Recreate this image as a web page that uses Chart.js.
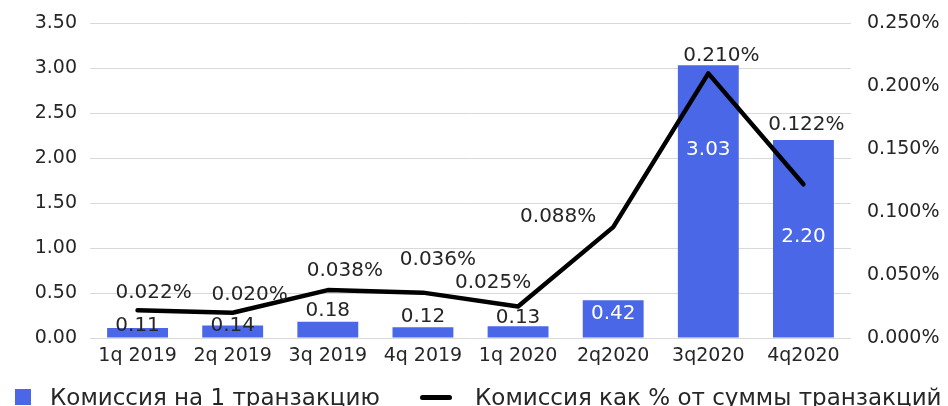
<!DOCTYPE html>
<html>
<head>
<meta charset="utf-8">
<script src="https://cdn.jsdelivr.net/npm/chart.js@4/dist/chart.umd.min.js"></script>
<style>
  html, body { margin: 0; padding: 0; background: #fff; }
  #wrap { position: relative; width: 948px; height: 406px; overflow: hidden; font-family: 'DejaVu Sans', sans-serif; color: #262626; }
  #chart { position: absolute; left: 0; top: 0; }
  .lg { position: absolute; font-size: 23px; line-height: 23px; white-space: nowrap; }
  .sw-bar { position: absolute; left: 15px; top: 389px; width: 16px; height: 16px; background: #4a67e8; }
  .sw-line { position: absolute; left: 420px; top: 395px; width: 32px; height: 5px; background: #000; border-radius: 3px; }
</style>
</head>
<body>
<div id="wrap">
  <canvas id="chart" width="948" height="406"></canvas>
  <div class="sw-bar"></div>
  <div class="lg" id="lg-bar" style="left:50px; top:386px;"></div>
  <div class="sw-line"></div>
  <div class="lg" id="lg-line" style="left:475px; top:386px;"></div>
</div>
<script>
// ─── Data ───
const quarters = ['1q 2019', '2q 2019', '3q 2019', '4q 2019', '1q 2020', '2q2020', '3q2020', '4q2020'];
const feePerTx = [0.11, 0.14, 0.18, 0.12, 0.13, 0.42, 3.03, 2.20];
const feePct = [0.022, 0.020, 0.038, 0.036, 0.025, 0.088, 0.210, 0.122];
const barLabel = 'Комиссия на 1 транзакцию';
const lineLabel = 'Комиссия как % от суммы транзакций';

// label placement (pixels from the mark) — mirrors the manual placement in the original
const barLabelDy = [-2, 0, -11, -10, -9, 14, 84, 97];
const lineLabelOffset = [[16, -17], [17, -18], [17, -19], [15, -33], [-25, -24], [-55, -10], [13, -18], [3, -59]];

const BLUE = '#4a67e8';
const TEXT = '#262626';
const FONT = "'DejaVu Sans', sans-serif";

document.getElementById('lg-bar').textContent = barLabel;
document.getElementById('lg-line').textContent = lineLabel;

// bar labels go under the line, % labels on top of everything
const valueLabels = {
  id: 'valueLabels',
  afterDatasetDraw(chart, args) {
    const ctx = chart.ctx;
    ctx.save();
    ctx.font = `20px ${FONT}`;
    ctx.textAlign = 'center';
    ctx.textBaseline = 'middle';
    if (args.index === 1) {
      args.meta.data.forEach((el, i) => {
        ctx.fillStyle = barLabelDy[i] > 5 ? '#ffffff' : TEXT;
        ctx.fillText(feePerTx[i].toFixed(2), el.x, el.y + barLabelDy[i]);
      });
    } else {
      args.meta.data.forEach((el, i) => {
        const [dx, dy] = lineLabelOffset[i];
        ctx.fillStyle = TEXT;
        ctx.fillText(feePct[i].toFixed(3) + '%', el.x + dx, el.y + dy);
      });
    }
    ctx.restore();
  }
};

// fixed side widths; drop the label overhang so the layout padding sets the top
const fixSide = w => s => { s.width = w; s.paddingTop = 0; s.paddingBottom = 0; };

new Chart(document.getElementById('chart'), {
  data: {
    labels: quarters,
    datasets: [
      {
        type: 'line',
        label: lineLabel,
        data: feePct,
        yAxisID: 'y1',
        borderColor: '#000',
        borderWidth: 4.5,
        borderCapStyle: 'round',
        borderJoinStyle: 'round',
        pointRadius: 0,
        tension: 0,
        order: 0,
      },
      {
        type: 'bar',
        label: barLabel,
        data: feePerTx,
        yAxisID: 'y',
        backgroundColor: BLUE,
        categoryPercentage: 0.8,
        barPercentage: 0.8,
        order: 1,
      },
    ],
  },
  options: {
    responsive: false,
    animation: false,
    layout: { padding: { top: 23, left: 0, right: 0, bottom: 0 } },
    plugins: {
      legend: { display: false },
      tooltip: { enabled: false },
    },
    scales: {
      x: {
        grid: { display: false, drawTicks: false },
        border: { display: false },
        ticks: { color: TEXT, font: { family: FONT, size: 19 }, padding: 7, maxRotation: 0 },
        afterFit: s => { s.height = 68; s.paddingLeft = 0; s.paddingRight = 0; },
      },
      y: {
        position: 'left',
        min: 0,
        max: 3.5,
        ticks: { stepSize: 0.5, color: TEXT, font: { family: FONT, size: 19 }, padding: 13, callback: v => v.toFixed(2) },
        grid: { color: '#d9d9d9', lineWidth: 1, drawTicks: false },
        border: { display: false },
        afterFit: fixSide(90),
      },
      y1: {
        position: 'right',
        min: 0,
        max: 0.25,
        ticks: { stepSize: 0.05, color: TEXT, font: { family: FONT, size: 19 }, padding: 16, callback: v => v.toFixed(3) + '%' },
        grid: { display: false, drawTicks: false },
        border: { display: false },
        afterFit: fixSide(97),
      },
    },
  },
  plugins: [valueLabels],
});
</script>
</body>
</html>
